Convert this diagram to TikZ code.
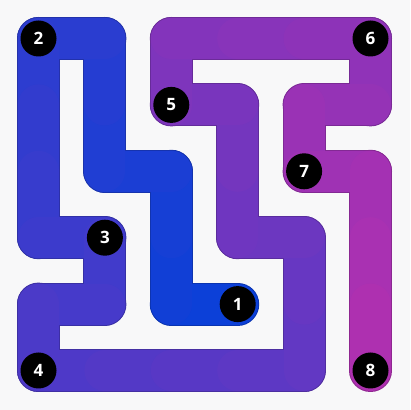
\documentclass[tikz,border=0pt]{standalone}
\usepackage{fontspec}
\setmainfont{Open Sans}
\definecolor{bgc}{RGB}{248,248,249}
\definecolor{startc}{RGB}{10,64,216}
\definecolor{endc}{RGB}{176,48,176}
\tikzset{
  numc/.style={circle, fill=black, minimum size=36pt, inner sep=0pt, text=white, font=\bfseries\fontsize{17}{17}\selectfont},
  pathfill/.style={line width=41pt, line cap=round},
  pathedge/.style={line width=43pt, line cap=round}
}
\begin{document}
\begin{tikzpicture}[x=1pt,y=1pt]
\fill[bgc] (0,0) rectangle (410,410);
\useasboundingbox (0,0) rectangle (410,410);
\foreach [count=\n from 0] \c/\r in {3/4,2/4,2/3,2/2,1/2,1/1,1/0,0/0,0/1,0/2,0/3,1/3,1/4,0/4,0/5,1/5,2/5,3/5,4/5,4/4,4/3,3/3,3/2,3/1,2/1,2/0,3/0,4/0,5/0,5/1,4/1,4/2,5/2,5/3,5/4,5/5}{
  \coordinate (p\n) at ({38.5+66.4*\c},{410-38.5-66.4*\r});
}
\foreach \i in {0,...,34}{
  \pgfmathtruncatemacro\j{\i+1}
  \pgfmathtruncatemacro\pc{round(100*(\i+0.5)/35)}
  \colorlet{segc}{endc!\pc!startc}
  \draw[pathedge, draw=segc!82!black] (p\i) -- (p\j);
}
\foreach \i in {0,...,34}{
  \pgfmathtruncatemacro\j{\i+1}
  \pgfmathtruncatemacro\pc{round(100*(\i+0.5)/35)}
  \colorlet{segc}{endc!\pc!startc}
  \draw[pathfill, draw=segc] (p\i) -- (p\j);
}
\node[numc] (n1) at (p0) {1};
\node[numc] (n2) at (p7) {2};
\node[numc] (n3) at (p11) {3};
\node[numc] (n4) at (p14) {4};
\node[numc] (n5) at (p24) {5};
\node[numc] (n6) at (p28) {6};
\node[numc] (n7) at (p31) {7};
\node[numc] (n8) at (p35) {8};
\end{tikzpicture}
\end{document}
